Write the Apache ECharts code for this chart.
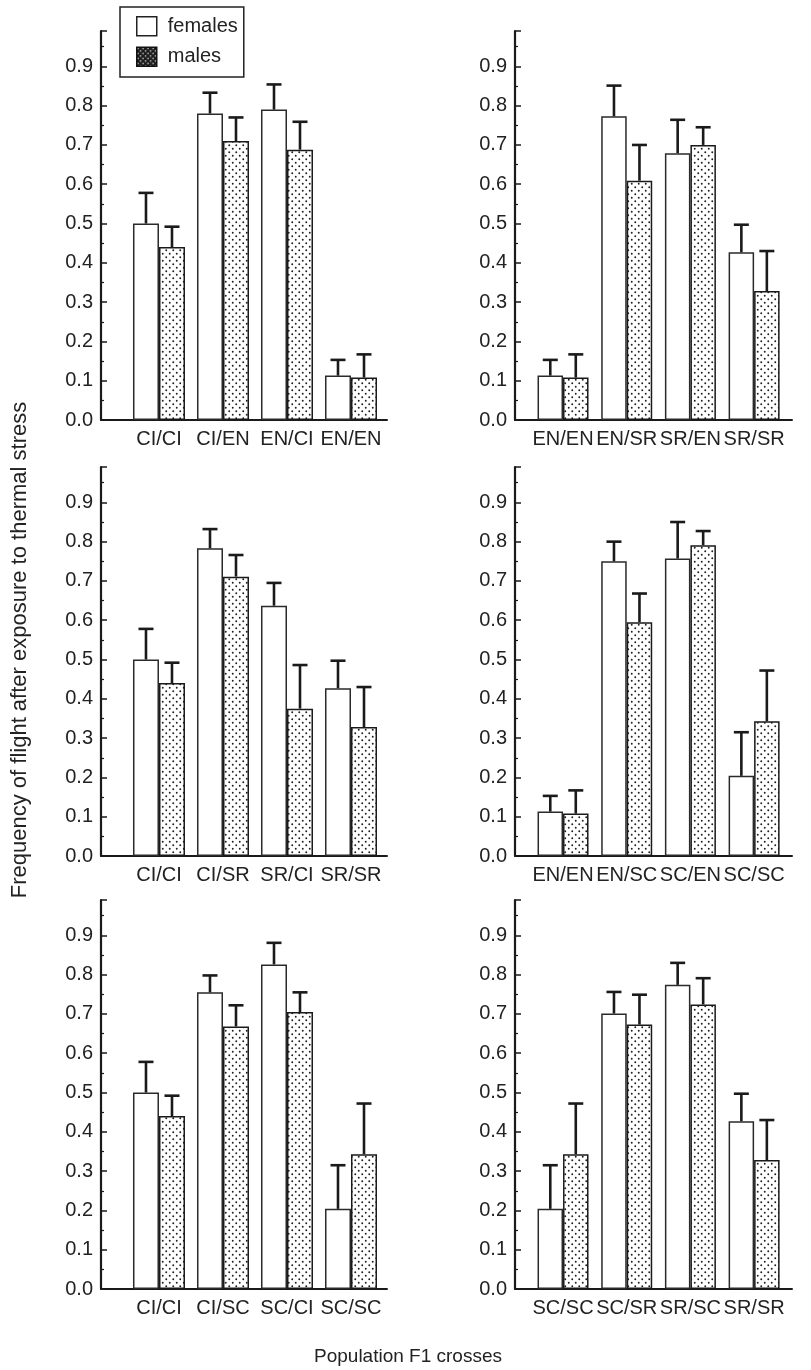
<!DOCTYPE html>
<html><head><meta charset="utf-8">
<script src="https://cdn.jsdelivr.net/npm/echarts@6/dist/echarts.min.js"></script>
<style>html,body{margin:0;padding:0;background:#fff}#c{width:811px;height:1370px}</style>
</head><body><div id="c"></div>
<script>
// ---- data ----
const crosses1 = ['CI/CI', 'CI/EN', 'EN/CI', 'EN/EN'];
const females1 = [0.50, 0.78, 0.79, 0.113];
const femalesTop1 = [0.578, 0.833, 0.854, 0.153];
const males1 = [0.44, 0.71, 0.688, 0.108];
const malesTop1 = [0.492, 0.77, 0.759, 0.167];

const crosses2 = ['EN/EN', 'EN/SR', 'SR/EN', 'SR/SR'];
const females2 = [0.113, 0.773, 0.679, 0.427];
const femalesTop2 = [0.153, 0.851, 0.764, 0.497];
const males2 = [0.108, 0.609, 0.70, 0.328];
const malesTop2 = [0.167, 0.70, 0.745, 0.43];

const crosses3 = ['CI/CI', 'CI/SR', 'SR/CI', 'SR/SR'];
const females3 = [0.50, 0.783, 0.637, 0.427];
const femalesTop3 = [0.578, 0.832, 0.695, 0.497];
const males3 = [0.44, 0.711, 0.375, 0.328];
const malesTop3 = [0.492, 0.766, 0.486, 0.43];

const crosses4 = ['EN/EN', 'EN/SC', 'SC/EN', 'SC/SC'];
const females4 = [0.113, 0.75, 0.757, 0.204];
const femalesTop4 = [0.153, 0.80, 0.85, 0.315];
const males4 = [0.108, 0.595, 0.791, 0.343];
const malesTop4 = [0.167, 0.668, 0.827, 0.472];

const crosses5 = ['CI/CI', 'CI/SC', 'SC/CI', 'SC/SC'];
const females5 = [0.50, 0.755, 0.826, 0.204];
const femalesTop5 = [0.578, 0.798, 0.881, 0.315];
const males5 = [0.44, 0.668, 0.705, 0.343];
const malesTop5 = [0.492, 0.722, 0.755, 0.472];

const crosses6 = ['SC/SC', 'SC/SR', 'SR/SC', 'SR/SR'];
const females6 = [0.204, 0.701, 0.774, 0.427];
const femalesTop6 = [0.315, 0.756, 0.830, 0.497];
const males6 = [0.343, 0.673, 0.724, 0.328];
const malesTop6 = [0.472, 0.749, 0.791, 0.43];

const yTicks = [0, 0.1, 0.2, 0.3, 0.4, 0.5, 0.6, 0.7, 0.8, 0.9];
const seriesNames = ['females', 'males'];
const yTitle = 'Frequency of flight after exposure to thermal stress';
const xTitle = 'Population F1 crosses';

// ---- layout / style ----
const FONT = '"Liberation Sans", Arial, Helvetica, sans-serif';
const INK = '#1a1a1a';
const panels = [
  {cats: crosses1, f: females1, fTop: femalesTop1, m: males1, mTop: malesTop1},
  {cats: crosses2, f: females2, fTop: femalesTop2, m: males2, mTop: malesTop2},
  {cats: crosses3, f: females3, fTop: femalesTop3, m: males3, mTop: malesTop3},
  {cats: crosses4, f: females4, fTop: femalesTop4, m: males4, mTop: malesTop4},
  {cats: crosses5, f: females5, fTop: femalesTop5, m: males5, mTop: malesTop5},
  {cats: crosses6, f: females6, fTop: femalesTop6, m: males6, mTop: malesTop6}
];
const colL = {left: 101, width: 286, xmin: -0.906, xmax: 3.5625, bw: 26};
const colR = {left: 515, width: 277, xmin: -0.754, xmax: 3.595, bw: 25.5};
const rowTops = [31, 467, 900];
const PH = 389, YMAX = 0.99;

function makePattern(bg, dot, size, r) {
  const c = document.createElement('canvas');
  c.width = size; c.height = size;
  const g = c.getContext('2d');
  g.fillStyle = bg; g.fillRect(0, 0, size, size);
  g.fillStyle = dot;
  [[size / 4, size / 4], [3 * size / 4, 3 * size / 4]].forEach(p => {
    g.beginPath(); g.arc(p[0], p[1], r, 0, Math.PI * 2); g.fill();
  });
  return {image: c, repeat: 'repeat'};
}
const dotFill = makePattern('#ffffff', '#1e1e1e', 7, 0.95);
const legendDotFill = makePattern('#1c1c1c', '#ffffff', 5, 0.75);

function errRender(sign, bw) {
  return function (params, api) {
    const x = api.value(0);
    const a = api.coord([x, api.value(1)]);
    const b = api.coord([x, api.value(2)]);
    const cx = a[0] + sign * bw / 2;
    return {type: 'group', children: [
      {type: 'line', shape: {x1: cx, y1: a[1], x2: cx, y2: b[1]}, style: {stroke: INK, lineWidth: 2.6}},
      {type: 'line', shape: {x1: cx - 7.5, y1: b[1], x2: cx + 7.5, y2: b[1]}, style: {stroke: INK, lineWidth: 2.6}}
    ]};
  };
}

const grids = [], xAxes = [], yAxes = [], series = [];
panels.forEach((p, i) => {
  const col = (i % 2 === 0) ? colL : colR;
  const top = rowTops[Math.floor(i / 2)];
  grids.push({left: col.left, width: col.width, top: top, height: PH, containLabel: false});
  xAxes.push({
    type: 'value', gridIndex: i, min: col.xmin, max: col.xmax,
    axisLine: {show: true, onZero: false, lineStyle: {color: INK, width: 2}},
    axisTick: {show: false}, splitLine: {show: false},
    axisLabel: {customValues: [0, 1, 2, 3], formatter: v => p.cats[Math.round(v)],
      hideOverlap: false, showMinLabel: true, showMaxLabel: true,
      fontSize: 20, color: '#222', fontFamily: FONT, margin: 9}
  });
  yAxes.push({
    type: 'value', gridIndex: i, min: 0, max: YMAX, interval: 0.1,
    axisLine: {show: true, onZero: false, lineStyle: {color: INK, width: 2.2}},
    axisTick: {show: true, inside: true, length: 6, lineStyle: {color: INK, width: 1.5}},
    minorTick: {show: true, splitNumber: 2, length: 3, lineStyle: {color: INK, width: 1.2}},
    splitLine: {show: false}, minorSplitLine: {show: false},
    axisLabel: {formatter: v => (yTicks.some(t => Math.abs(t - v) < 1e-6) ? v.toFixed(1) : ''),
      fontSize: 20, color: '#222', fontFamily: FONT, margin: 8}
  });
  series.push({
    name: seriesNames[0], type: 'bar', xAxisIndex: i, yAxisIndex: i,
    barWidth: col.bw, barGap: '0%',
    itemStyle: {color: '#ffffff', borderColor: '#2a2a2a', borderWidth: 1.5},
    data: p.f.map((v, k) => [k, v]), z: 2, silent: true
  });
  series.push({
    name: seriesNames[1], type: 'bar', xAxisIndex: i, yAxisIndex: i,
    barWidth: col.bw, barGap: '0%',
    itemStyle: {color: dotFill, borderColor: '#1a1a1a', borderWidth: 1.5},
    data: p.m.map((v, k) => [k, v]), z: 2, silent: true
  });
  series.push({
    name: 'errF' + i, type: 'custom', xAxisIndex: i, yAxisIndex: i, z: 3, silent: true,
    renderItem: errRender(-1, col.bw), encode: {x: 0, y: [1, 2]},
    data: p.f.map((v, k) => [k, v, p.fTop[k]])
  });
  series.push({
    name: 'errM' + i, type: 'custom', xAxisIndex: i, yAxisIndex: i, z: 3, silent: true,
    renderItem: errRender(1, col.bw), encode: {x: 0, y: [1, 2]},
    data: p.m.map((v, k) => [k, v, p.mTop[k]])
  });
});

const chart = echarts.init(document.getElementById('c'), null, {renderer: 'canvas'});
chart.setOption({
  animation: false,
  backgroundColor: '#ffffff',
  grid: grids, xAxis: xAxes, yAxis: yAxes, series: series,
  legend: {
    data: [
      {name: seriesNames[0], itemStyle: {color: '#ffffff', borderColor: '#222', borderWidth: 1.5}},
      {name: seriesNames[1], itemStyle: {color: legendDotFill, borderColor: '#111', borderWidth: 1.5}}
    ],
    orient: 'vertical', left: 120, top: 7,
    padding: [9, 6, 10, 16], itemGap: 10, itemWidth: 20, itemHeight: 19,
    icon: 'rect', borderColor: '#222', borderWidth: 1.5, backgroundColor: '#fff',
    selectedMode: false,
    textStyle: {fontSize: 20, color: '#222', fontFamily: FONT, padding: [0, 0, 0, 6]}
  },
  graphic: [
    {type: 'text', x: 20, y: 650, rotation: Math.PI / 2, silent: true,
      style: {text: yTitle, font: '22px ' + FONT, fill: '#222', align: 'center', verticalAlign: 'middle'}},
    {type: 'text', x: 408, y: 1357, silent: true,
      style: {text: xTitle, font: '19px ' + FONT, fill: '#222', align: 'center', verticalAlign: 'middle'}}
  ]
});
</script></body></html>
